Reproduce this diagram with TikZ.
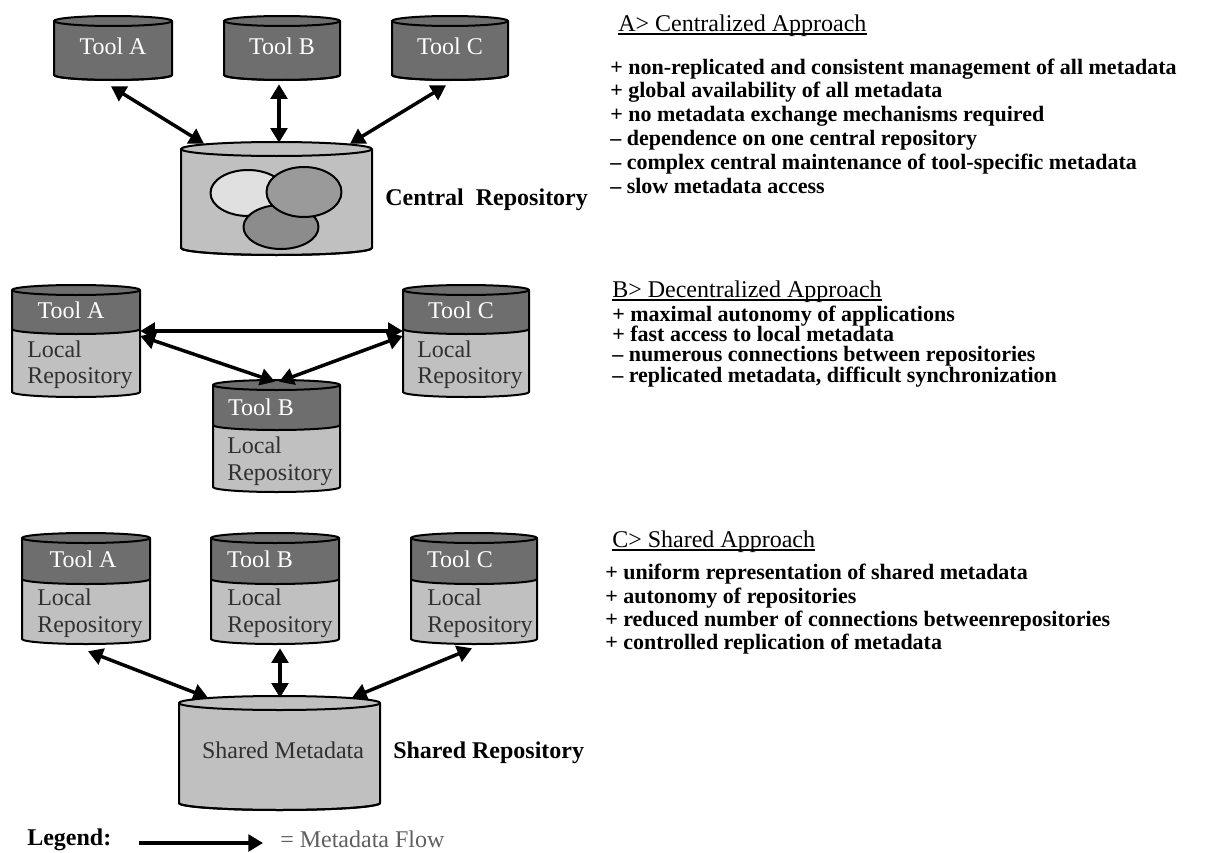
\documentclass[tikz,border=0pt]{standalone}
\usepackage{fontspec}
\setmainfont{Liberation Serif}
\usetikzlibrary{arrows.meta,calc}
\definecolor{tooldark}{HTML}{6E6E6E}
\definecolor{repolight}{HTML}{C0C0C0}
\definecolor{setlight}{HTML}{E0E0E0}
\definecolor{setmid}{HTML}{9A9A9A}
\definecolor{setdark}{HTML}{8C8C8C}
\definecolor{inktext}{HTML}{303030}
\definecolor{legendgray}{HTML}{606060}

% Drum (cylinder) with an upper and a lower band.
% #1 name, #2 left x, #3 right x, #4 top ellipse y, #5 band divider y,
% #6 bottom ellipse y, #7 ellipse half height, #8 upper fill, #9 lower fill
\newcommand{\drum}[9]{%
  \pgfmathsetmacro\dcx{(#2+#3)/2}%
  \pgfmathsetmacro\drx{(#3-#2)/2}%
  \fill[#9] (#2,-#4) -- (#2,-#6) arc[start angle=180,end angle=360,x radius=\drx,y radius=#7] -- (#3,-#4) -- cycle;
  \fill[#8] (#2,-#4) -- (#2,-#5) arc[start angle=180,end angle=360,x radius=\drx,y radius=#7] -- (#3,-#4) -- cycle;
  \draw[drumline] (#2,-#5) arc[start angle=180,end angle=360,x radius=\drx,y radius=#7];
  \draw[drumline,fill=#8] (\dcx,-#4) ellipse[x radius=\drx,y radius=#7];
  \draw[drumline] (#2,-#4) -- (#2,-#6) arc[start angle=180,end angle=360,x radius=\drx,y radius=#7] -- (#3,-#4);
  \node[inner sep=0pt,minimum width={(#3-#2)*0.75pt},minimum height={(#6-#4+2*#7)*0.75pt}] (#1) at (\dcx,{-(#4+#6)/2}) {};
}

% Heading with a rule just under its baseline
\newcommand{\heading}[3]{%
  \node[headline] (#1) at #2 {#3};
  \draw[line width=1.1pt] ($(#1.south west)+(0,-2.5)$) -- ($(#1.south east)+(0,-2.5)$);
}

\begin{document}
\begin{tikzpicture}[x=0.75pt,y=0.75pt,line join=round,
  drumline/.style={line width=1.5pt,draw=black},
  tip/.tip={Triangle[length=11pt,width=12.5pt]},
  flow/.style={line width=2.6pt,tip-tip},
  flowone/.style={line width=2.6pt,-tip},
  toolname/.style={font=\fontsize{18}{20}\selectfont,text=white,inner sep=0pt,text height=0.66em,text depth=0pt},
  localtext/.style={font=\fontsize{18}{20}\selectfont,text=inktext,inner sep=0pt,anchor=west,text height=0.66em,text depth=0pt},
  boldlabel/.style={font=\fontsize{18}{20}\selectfont\bfseries,inner sep=0pt,anchor=west,text height=0.66em,text depth=0pt},
  headline/.style={font=\fontsize{18}{20}\selectfont,inner sep=0pt,anchor=west,text height=0.66em,text depth=0pt},
  point/.style={font=\fontsize{16.5}{18}\selectfont\bfseries,inner sep=0pt,anchor=west,text height=0.55em,text depth=0pt}]
\useasboundingbox (0,0) rectangle (1208,-853);
\fill[white] (0,0) rectangle (1208,-853);

% ---------- A: centralized ----------
\drum{a1}{54}{172}{21}{75}{75}{5}{tooldark}{tooldark}
\drum{a2}{224}{340}{21}{75}{75}{5}{tooldark}{tooldark}
\drum{a3}{392}{508}{21}{75}{75}{5}{tooldark}{tooldark}
\drum{ac}{181}{372}{149}{248}{248}{7}{repolight}{repolight}
\draw[drumline,fill=setlight] (248,-193) ellipse[x radius=37.5,y radius=23];
\draw[drumline,fill=setdark] (281,-227) ellipse[x radius=37.5,y radius=22];
\draw[drumline,fill=setmid] (304,-192) ellipse[x radius=37.5,y radius=25];
\node[toolname] (a1t) at (113,-50) {Tool A};
\node[toolname] (a2t) at (282,-50) {Tool B};
\node[toolname] (a3t) at (450,-50) {Tool C};
\node[boldlabel] (acl) at (385,-201) {Central\ \ Repository};
\draw[flow] ($(a1.south)+(-2,-6)$) -- ($(ac.north)+(-72.5,-2)$);
\draw[flow] ($(a2.south)+(-3,-4)$) -- ($(ac.north)+(2.5,-1)$);
\draw[flow] ($(a3.south)+(-4,-5)$) -- ($(ac.north)+(73.5,-2)$);

% ---------- B: decentralized ----------
\drum{b1}{12}{140}{290}{329}{392}{5}{tooldark}{repolight}
\drum{b3}{403}{529}{290}{329}{392}{5}{tooldark}{repolight}
\drum{b2}{213}{340}{385}{425}{487}{5}{tooldark}{repolight}
\node[toolname] (b1t) at (71,-314) {Tool A};
\node[localtext] (b1l) at (27,-353) {Local};
\node[localtext] (b1r) at (27,-379) {Repository};
\node[toolname] (b3t) at (461,-314) {Tool C};
\node[localtext] (b3l) at (417,-353) {Local};
\node[localtext] (b3r) at (417,-379) {Repository};
\node[toolname] (b2t) at (261,-411) {Tool B};
\node[localtext] (b2l) at (227,-449) {Local};
\node[localtext] (b2r) at (227,-476) {Repository};
\draw[flow] ($(b1.east)+(0,10)$) -- ($(b3.west)+(0,10)$);
\draw[flow] ($(b1.east)+(0,5)$) -- ($(b2.north)+(-1.5,-2)$);
\draw[flow] ($(b3.west)+(0,5)$) -- ($(b2.north)+(2.5,-2)$);

% ---------- C: shared ----------
\drum{c1}{22}{150}{538}{579}{639}{5}{tooldark}{repolight}
\drum{c2}{211}{339}{538}{579}{639}{5}{tooldark}{repolight}
\drum{c3}{411}{537}{538}{579}{639}{5}{tooldark}{repolight}
\drum{cs}{179}{380}{703}{803}{803}{7}{repolight}{repolight}
\node[toolname] (c1t) at (83,-563) {Tool A};
\node[localtext] (c1l) at (37,-601) {Local};
\node[localtext] (c1r) at (37,-628) {Repository};
\node[toolname] (c2t) at (260,-563) {Tool B};
\node[localtext] (c2l) at (227,-601) {Local};
\node[localtext] (c2r) at (227,-628) {Repository};
\node[toolname] (c3t) at (460,-563) {Tool C};
\node[localtext] (c3l) at (427,-601) {Local};
\node[localtext] (c3r) at (427,-628) {Repository};
\node[localtext,anchor=center] (csm) at (283,-754) {Shared Metadata};
\node[boldlabel] (csl) at (393,-754) {Shared Repository};
\draw[flow] ($(c1.south)+(2,-7)$) -- ($(cs.north)+(-71.5,-2)$);
\draw[flow] ($(c2.south)+(5,-4)$) -- ($(cs.north)+(0.5,-2)$);
\draw[flow] ($(c3.south)+(-2,-4)$) -- ($(cs.north)+(72.5,-2)$);

% ---------- legend ----------
\node[boldlabel] (lg) at (27,-841) {Legend:};
\node[localtext,text=legendgray] (mf) at (280,-843) {= Metadata Flow};
\draw[flowone] ($(lg.east)+(27,-2)$) -- ($(mf.west)+(-17,0)$);

% ---------- remarks ----------
\heading{ha}{(618,-27)}{A> Centralized Approach}
\node[point] (pa1) at (610,-71) {+ non-replicated and consistent management of all metadata};
\node[point] (pa2) at (610,-94) {+ global availability of all metadata};
\node[point] (pa3) at (610,-118) {+ no metadata exchange mechanisms required};
\node[point] (pa4) at (610,-141.5) {– dependence on one central repository};
\node[point] (pa5) at (610,-165.5) {– complex central maintenance of tool-specific metadata};
\node[point] (pa6) at (610,-189.5) {– slow metadata access};

\heading{hb}{(612,-293)}{B> Decentralized Approach}
\node[point] (pb1) at (612,-318) {+ maximal autonomy of applications};
\node[point] (pb2) at (612,-338) {+ fast access to local metadata};
\node[point] (pb3) at (612,-358) {– numerous connections between repositories};
\node[point] (pb4) at (612,-379) {– replicated metadata, difficult synchronization};

\heading{hc}{(612,-543)}{C> Shared Approach}
\node[point] (pc1) at (605,-576) {+ uniform representation of shared metadata};
\node[point] (pc2) at (605,-600) {+ autonomy of repositories};
\node[point] (pc3) at (605,-623) {+ reduced number of connections betweenrepositories};
\node[point] (pc4) at (605,-646) {+ controlled replication of metadata};
\end{tikzpicture}
\end{document}
